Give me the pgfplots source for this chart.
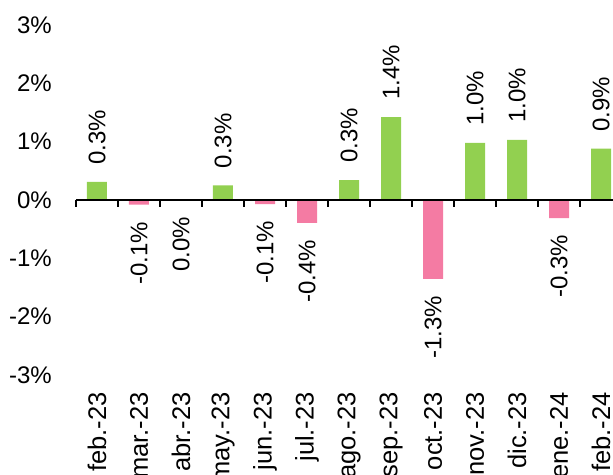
\documentclass[border=0pt]{standalone}
\usepackage{pgfplots}
\pgfplotsset{compat=1.18}
\usepackage{fontspec}
\setmainfont{Liberation Sans}
\definecolor{posgreen}{HTML}{92D050}
\definecolor{negpink}{HTML}{F47BA3}
\begin{document}
\begin{tikzpicture}[font=\fontsize{24bp}{28bp}\selectfont]
\begin{axis}[
  scale only axis, width=546bp, height=350bp,
  xmin=-0.5, xmax=12.5, ymin=-3, ymax=3,
  axis line style={draw=none},
  major tick length=0pt,
  ytick={-3,-2,-1,0,1,2,3},
  yticklabels={-3\%,-2\%,-1\%,0\%,1\%,2\%,3\%},
  yticklabel style={anchor=east, inner sep=0pt},
  yticklabel shift=24bp,
  xtick={0,1,2,3,4,5,6,7,8,9,10,11,12},
  xticklabels={feb.-23,mar.-23,abr.-23,may.-23,jun.-23,jul.-23,ago.-23,sep.-23,oct.-23,nov.-23,dic.-23,ene.-24,feb.-24},
  xticklabel style={rotate=90, anchor=east, inner sep=0pt, font=\fontsize{25.5bp}{30bp}\selectfont},
  xticklabel shift=17bp,
  clip=false,
  ybar, bar width=20bp,
  nodes near coords, point meta=explicit symbolic,
]
\addplot[fill=posgreen, draw=none, bar shift=0pt,
  nodes near coords style={yshift=17bp, rotate=90, anchor=west, inner sep=0pt, text=black}]
  coordinates {(0,0.31)[0.3\%] (3,0.25)[0.3\%] (6,0.34)[0.3\%] (7,1.42)[1.4\%] (9,0.98)[1.0\%] (10,1.03)[1.0\%] (12,0.88)[0.9\%]};
\addplot[fill=negpink, draw=none, bar shift=0pt,
  nodes near coords style={yshift=-17bp, rotate=90, anchor=east, inner sep=0pt, text=black}]
  coordinates {(1,-0.08)[-0.1\%] (2,0)[0.0\%] (4,-0.07)[-0.1\%] (5,-0.39)[-0.4\%] (8,-1.35)[-1.3\%] (11,-0.31)[-0.3\%]};
\draw[line width=2bp] (axis cs:-0.5,0) -- (axis cs:12.5,0);
\pgfplotsinvokeforeach{-0.5,0.5,1.5,2.5,3.5,4.5,5.5,6.5,7.5,8.5,9.5,10.5,11.5,12.5}{
  \draw[line width=1.5bp] (axis cs:#1,0) -- ++(0bp,-7bp);
}
\coordinate (bl) at (axis cs:-2.3095,-4.714);
\coordinate (tr) at (axis cs:12.2857,3.4286);
\end{axis}
\pgfresetboundingbox
\path[use as bounding box] (bl) rectangle (tr);
\end{tikzpicture}
\end{document}
